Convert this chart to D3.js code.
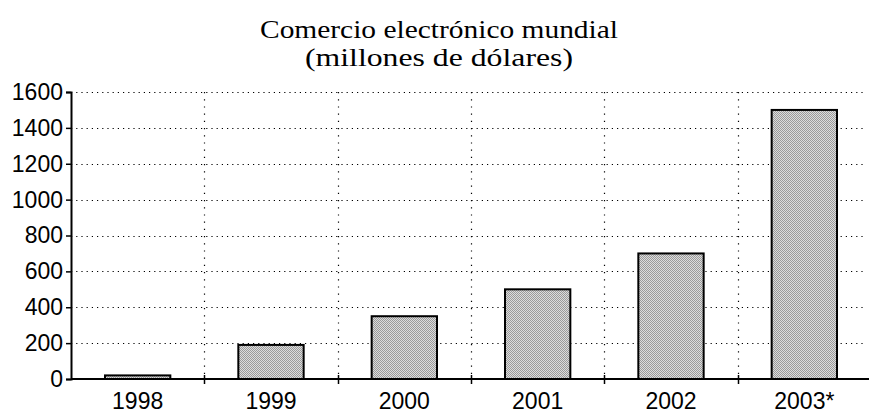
<!DOCTYPE html>
<html>
<head>
<meta charset="utf-8">
<script src="https://cdn.jsdelivr.net/npm/d3@7"></script>
<style>
  html, body { margin: 0; padding: 0; background: #fff; }
  svg { display: block; }
</style>
</head>
<body>
<svg id="chart" width="869" height="413"></svg>
<script>
const categories = ["1998", "1999", "2000", "2001", "2002", "2003*"];
const values = [20, 190, 350, 500, 700, 1500];
const yTicks = [0, 200, 400, 600, 800, 1000, 1200, 1400, 1600];
const titleLines = ["Comercio electrónico mundial", "(millones de dólares)"];

(function () {
const svg = d3.select("#chart");
const mLeft = 71, mRight = 871, mTop = 92, mBottom = 379;
const titleWidths = [358, 268];

const defs = svg.append("defs");
const pat = defs.append("pattern")
  .attr("id", "checker").attr("patternUnits", "userSpaceOnUse")
  .attr("width", 2).attr("height", 2);
pat.append("rect").attr("width", 2).attr("height", 2).attr("fill", "#dcdcdc");
pat.append("rect").attr("width", 1).attr("height", 1).attr("fill", "#9a9a9a");
pat.append("rect").attr("x", 1).attr("y", 1).attr("width", 1).attr("height", 1).attr("fill", "#9a9a9a");

const x = d3.scaleBand().domain(categories).range([mLeft, mRight]).paddingInner(0).paddingOuter(0);
const y = d3.scaleLinear().domain([0, 1600]).range([mBottom, mTop]);

// title
svg.append("g").selectAll("text").data(titleLines).join("text")
  .attr("x", 439).attr("y", (d, i) => 38 + i * 28)
  .attr("text-anchor", "middle")
  .attr("font-family", "'Liberation Serif', 'Times New Roman', serif")
  .attr("font-size", 25).attr("fill", "#000")
  .attr("textLength", (d, i) => titleWidths[i])
  .attr("lengthAdjust", "spacingAndGlyphs")
  .text(d => d);

// horizontal gridlines
svg.append("g").selectAll("line").data(yTicks.filter(d => d > 0)).join("line")
  .attr("x1", mLeft).attr("x2", 866)
  .attr("y1", d => Math.round(y(d)) + 0.5).attr("y2", d => Math.round(y(d)) + 0.5)
  .attr("stroke", "#000").attr("stroke-width", 1.2).attr("stroke-dasharray", "1.2,4");

// vertical gridlines at category boundaries
const boundaries = categories.slice(1).map(c => x(c));
svg.append("g").selectAll("line").data(boundaries).join("line")
  .attr("x1", d => Math.round(d) + 0.5).attr("x2", d => Math.round(d) + 0.5)
  .attr("y1", mTop).attr("y2", mBottom)
  .attr("stroke", "#000").attr("stroke-width", 1.2).attr("stroke-dasharray", "1.2,6");

// bars
const bw = x.bandwidth() * 0.49;
svg.append("g").selectAll("rect").data(values).join("rect")
  .attr("x", (d, i) => x(categories[i]) + (x.bandwidth() - bw) / 2)
  .attr("width", bw)
  .attr("y", d => y(d))
  .attr("height", d => mBottom - y(d))
  .attr("fill", "url(#checker)")
  .attr("stroke", "#000").attr("stroke-width", 2);

// y axis
const yAxis = d3.axisLeft(y).tickValues(yTicks).tickSize(5).tickPadding(3).tickFormat(d3.format("d"));
const gy = svg.append("g").attr("transform", `translate(${mLeft},0)`).call(yAxis);
gy.select(".domain").attr("stroke", "#000").attr("stroke-width", 2);
gy.selectAll(".tick line").attr("stroke", "#000").attr("stroke-width", 1.5);
gy.selectAll(".tick text")
  .attr("font-family", "'Liberation Sans', Arial, sans-serif")
  .attr("font-size", 23).attr("fill", "#000");

// x axis line
svg.append("line").attr("x1", mLeft).attr("x2", 869).attr("y1", mBottom).attr("y2", mBottom)
  .attr("stroke", "#000").attr("stroke-width", 2);

// x boundary ticks
svg.append("g").selectAll("line").data(boundaries).join("line")
  .attr("x1", d => Math.round(d) + 0.5).attr("x2", d => Math.round(d) + 0.5)
  .attr("y1", mBottom - 4).attr("y2", mBottom + 5)
  .attr("stroke", "#000").attr("stroke-width", 1.5);

// x labels
svg.append("g").selectAll("text").data(categories).join("text")
  .attr("x", d => x(d) + x.bandwidth() / 2)
  .attr("y", 409)
  .attr("text-anchor", "middle")
  .attr("font-family", "'Liberation Sans', Arial, sans-serif")
  .attr("font-size", 23).attr("fill", "#000")
  .text(d => d);
})();
</script>
</body>
</html>
